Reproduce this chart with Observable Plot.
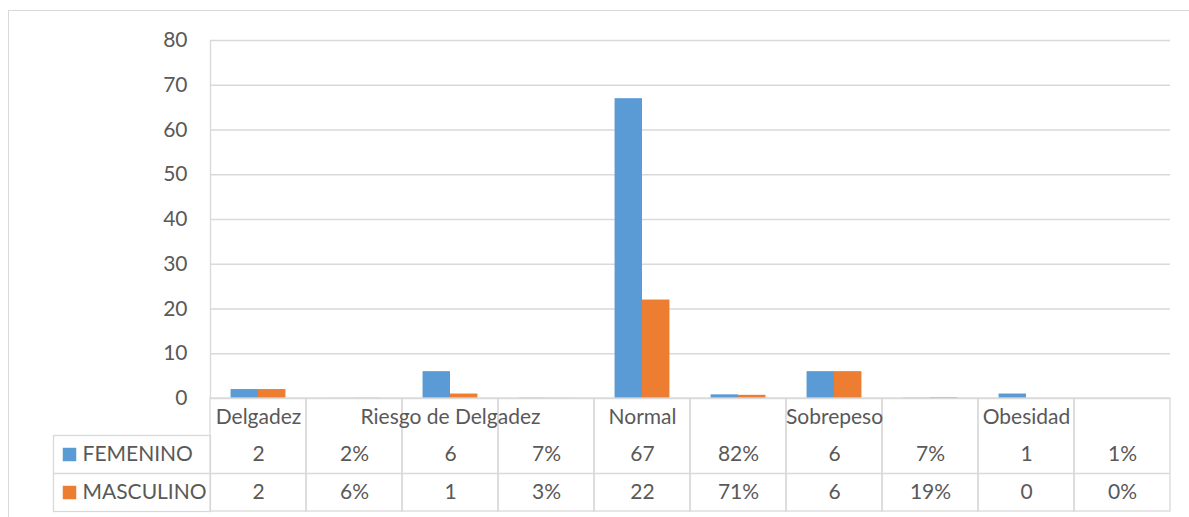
<!DOCTYPE html>
<html><head><meta charset="utf-8">
<script src="https://cdn.jsdelivr.net/npm/d3@7"></script>
<script src="https://cdn.jsdelivr.net/npm/@observablehq/plot@0.6"></script>
<style>body{margin:0;background:#fff;}</style>
</head><body><div id="chart"></div>
<script>
// ---- data ----
const columns = ["Delgadez", "Delgadez %", "Riesgo de Delgadez", "Riesgo de Delgadez %", "Normal", "Normal %", "Sobrepeso", "Sobrepeso %", "Obesidad", "Obesidad %"];
const categoryLabels = ["Delgadez", "", "Riesgo de Delgadez", "", "Normal", "", "Sobrepeso", "", "Obesidad", ""];
const seriesNames = ["FEMENINO", "MASCULINO"];
const femenino = [2, 0.02, 6, 0.07, 67, 0.82, 6, 0.07, 1, 0.01];
const masculino = [2, 0.06, 1, 0.03, 22, 0.71, 6, 0.19, 0, 0];
const yTicks = [0, 10, 20, 30, 40, 50, 60, 70, 80];
const seriesColors = ["#5B9BD5", "#ED7D31"];

// ---- layout ----
const W = 1189, H = 517, mL = 210, mR = 19, mT = 40, mB = 119;
const grey = "#D9D9D9", textColor = "#595959";
const bw = (W - mL - mR) / columns.length;
const gapWidth = 1.5;
const barW = bw / (2 + gapWidth);
const gap = barW * gapWidth / 2;
const catRowH = 37, rowH = 38;
const legendLeft = 53;
const fs = 21;

const seriesValues = [femenino, masculino];
const rows = seriesNames.flatMap((s, k) => columns.map((c, i) => ({
  series: s, k, column: c, value: seriesValues[k][i],
  label: i % 2 ? Math.round(seriesValues[k][i] * 100) + "%" : String(seriesValues[k][i])
})));
const cats = columns.map((c, i) => ({column: c, label: categoryLabels[i]}));

const marks = [
  // outer chart border
  Plot.frame({stroke: grey, insetLeft: 8 - mL, insetTop: 10 - mT, insetRight: -40, insetBottom: -(mB + 40)}),
  // gridlines
  Plot.ruleY(yTicks, {stroke: grey, strokeWidth: 1.3}),
  // vertical axis line
  Plot.ruleX([columns[0]], {stroke: grey, strokeWidth: 1.3, dx: -bw / 2}),
];
// bars
seriesNames.forEach((s, k) => {
  marks.push(Plot.barY(rows.filter(d => d.k === k), {
    x: "column", y: "value", fill: seriesColors[k],
    insetLeft: gap + k * barW, insetRight: bw - gap - (k + 1) * barW
  }));
});
// data table grid
marks.push(
  Plot.cell(columns, {x: d => d, fill: "none", stroke: grey, strokeWidth: 1.3,
    insetTop: H - mT - mB, insetBottom: -(catRowH + 2 * rowH)}),
  Plot.frame({stroke: grey, strokeWidth: 1.3, insetLeft: legendLeft - mL, insetRight: W - mL - mR,
    insetTop: H - mT - mB + catRowH, insetBottom: -(catRowH + 2 * rowH)}),
  Plot.ruleY([0], {stroke: grey, strokeWidth: 1.3, dy: catRowH + rowH, insetLeft: legendLeft - mL}),
  Plot.text(cats, {x: "column", text: "label", frameAnchor: "bottom", lineAnchor: "middle", dy: catRowH / 2,
    fill: textColor, fontSize: fs})
);
seriesNames.forEach((s, k) => {
  const dy = catRowH + rowH * k + rowH / 2;
  marks.push(
    Plot.text(rows.filter(d => d.k === k), {x: "column", text: "label", frameAnchor: "bottom", lineAnchor: "middle", dy,
      fill: textColor, fontSize: fs}),
    Plot.dot([s], {x: () => columns[0], frameAnchor: "bottom", symbol: "square", r: 7.6,
      fill: seriesColors[k], stroke: "none", dx: 69 - (mL + bw / 2), dy}),
    Plot.text([s], {x: () => columns[0], text: d => d, frameAnchor: "bottom", lineAnchor: "middle", textAnchor: "start",
      dx: 82 - (mL + bw / 2), dy, fill: textColor, fontSize: fs})
  );
});

const chart = Plot.plot({
  width: W, height: H,
  marginLeft: mL, marginRight: mR, marginTop: mT, marginBottom: mB,
  style: {fontFamily: "Lato, sans-serif", fontSize: fs + "px", color: textColor, background: "#fff"},
  x: {type: "band", domain: columns, padding: 0, axis: null},
  y: {domain: [0, 80], ticks: yTicks, tickSize: 0, tickPadding: 23, label: null},
  marks
});
document.getElementById("chart").append(chart);
</script>
</body></html>
